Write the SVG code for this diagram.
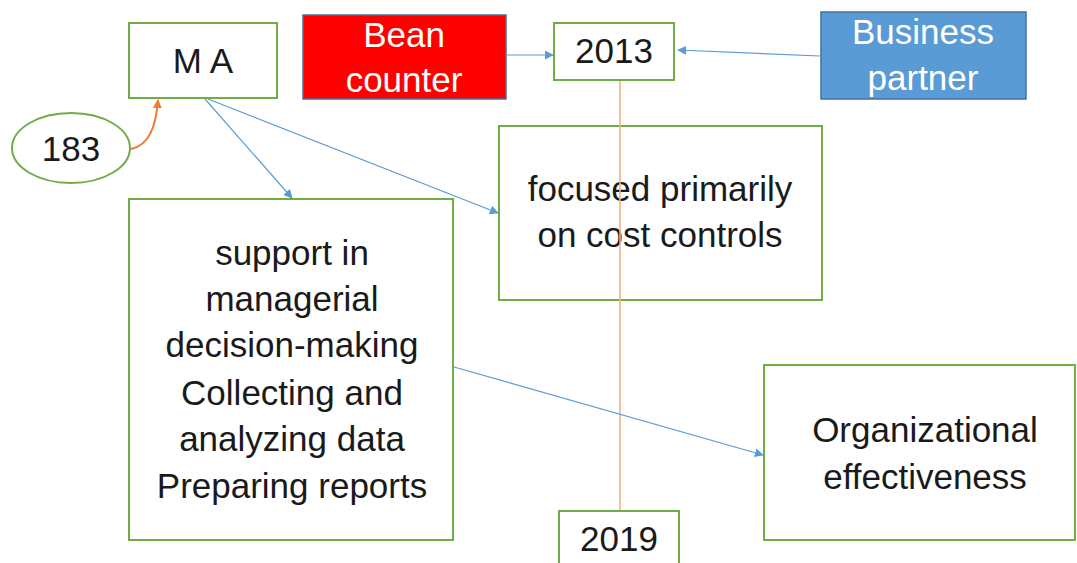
<svg xmlns="http://www.w3.org/2000/svg" width="1077" height="563" viewBox="0 0 1077 563">
  <defs>
    <style>
      .box { fill: #FFFFFF; stroke: #70AD47; stroke-width: 2; }
      .lbl { font-family: "Liberation Sans", Arial, sans-serif; font-size: 35px; fill: #1A1A1A; text-anchor: middle; }
      .wlbl { font-family: "Liberation Sans", Arial, sans-serif; font-size: 35px; fill: #FFFFFF; text-anchor: middle; }
      .link { fill: none; stroke: #5B9BD5; stroke-width: 1.2; marker-end: url(#arrowBlue); }
    </style>
    <marker id="arrowBlue" viewBox="0 0 10 10" refX="9" refY="5" markerWidth="9" markerHeight="9" markerUnits="userSpaceOnUse" orient="auto">
      <path d="M0,0 L10,5 L0,10 z" fill="#5B9BD5"/>
    </marker>
    <marker id="arrowOrange" viewBox="0 0 10 10" refX="9" refY="5" markerWidth="9" markerHeight="9" markerUnits="userSpaceOnUse" orient="auto">
      <path d="M0,0 L10,5 L0,10 z" fill="#ED7D31"/>
    </marker>
  </defs>

  <rect width="1077" height="563" fill="#FFFFFF"/>

  <g id="node-ma">
    <rect class="box" x="129" y="23" width="148" height="75"/>
    <text class="lbl" x="203" y="73">M A</text>
  </g>

  <g id="node-183">
    <ellipse cx="71" cy="148" rx="59" ry="35" fill="#FFFFFF" stroke="#70AD47" stroke-width="2"/>
    <text class="lbl" x="71" y="161">183</text>
  </g>

  <g id="node-bean-counter">
    <rect x="303" y="15" width="203" height="84" fill="#FF0000" stroke="#41719C" stroke-width="1.5"/>
    <text class="wlbl" x="404" y="47">Bean</text>
    <text class="wlbl" x="404" y="92">counter</text>
  </g>

  <g id="node-2013">
    <rect class="box" x="554" y="23" width="120" height="57"/>
    <text class="lbl" x="614" y="63">2013</text>
  </g>

  <g id="node-business-partner">
    <rect x="821" y="12" width="205" height="87" fill="#5B9BD5" stroke="#41719C" stroke-width="1.5"/>
    <text class="wlbl" x="923" y="44">Business</text>
    <text class="wlbl" x="923" y="90">partner</text>
  </g>

  <g id="node-focused">
    <rect class="box" x="499" y="126" width="323" height="174"/>
    <text class="lbl" x="660" y="201">focused primarily</text>
    <text class="lbl" x="660" y="247">on cost controls</text>
  </g>

  <g id="node-support">
    <rect class="box" x="129" y="199" width="324" height="341"/>
    <text class="lbl" x="292" y="265">support in</text>
    <text class="lbl" x="292" y="311">managerial</text>
    <text class="lbl" x="292" y="357">decision-making</text>
    <text class="lbl" x="292" y="405">Collecting and</text>
    <text class="lbl" x="292" y="451">analyzing data</text>
    <text class="lbl" x="292" y="498">Preparing reports</text>
  </g>

  <g id="node-organizational">
    <rect class="box" x="764" y="365" width="311" height="175"/>
    <text class="lbl" x="925" y="442">Organizational</text>
    <text class="lbl" x="925" y="489">effectiveness</text>
  </g>

  <g id="node-2019">
    <rect class="box" x="559" y="511" width="120" height="60"/>
    <text class="lbl" x="619" y="551">2019</text>
  </g>

  <!-- connectors, drawn last so the 2013-2019 timeline runs across the box between them -->
  <g id="connectors">
    <line x1="620" y1="81" x2="620" y2="510" stroke="#F4B183" stroke-width="1.6"/>
    <path d="M131,149 C150,145 156,125 158,100" fill="none" stroke="#ED7D31" stroke-width="2" marker-end="url(#arrowOrange)"/>
    <line class="link" x1="205" y1="99" x2="292" y2="198"/>
    <line class="link" x1="208" y1="99" x2="498" y2="213"/>
    <line class="link" x1="507" y1="55" x2="553" y2="55"/>
    <line class="link" x1="820" y1="56" x2="678" y2="50"/>
    <line class="link" x1="454" y1="367" x2="763" y2="455"/>
  </g>
</svg>
